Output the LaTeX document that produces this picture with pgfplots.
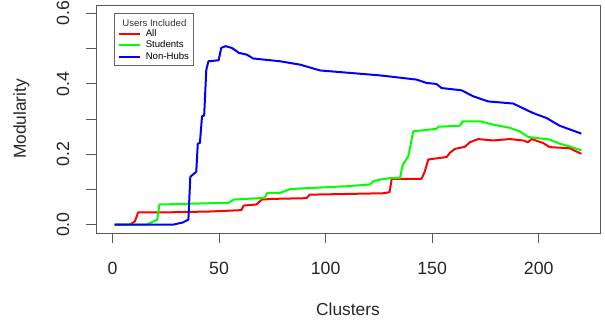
\documentclass[border=0pt]{standalone}
\usepackage{fontspec}
\setmainfont{Liberation Sans}
\usepackage{pgfplots}
\pgfplotsset{compat=1.18}
\definecolor{rred}{RGB}{255,0,0}
\definecolor{rgreen}{RGB}{0,255,0}
\definecolor{rblue}{RGB}{0,0,255}
\begin{document}
\begin{tikzpicture}
\begin{axis}[
  scale only axis,
  width=378pt, height=171pt,
  xmin=-7.76, xmax=228.76,
  ymin=-0.024, ymax=0.624,
  axis line style={black!65, line width=0.6pt},
  every tick/.style={black!65, line width=0.6pt},
  tick align=outside,
  major tick length=7.5pt,
  xtick={0,50,100,150,200},
  xticklabels={0,50,100,150,200},
  ytick={0,0.1,0.2,0.3,0.4,0.5,0.6},
  yticklabels={0.0,,0.2,,0.4,,0.6},
  xtick pos=left, ytick pos=left,
  xticklabel shift=10.5pt,
  yticklabel shift=9pt,
  /pgf/number format/assume math mode=true,
  ticklabel style={font=\fontsize{13.3}{15}\selectfont, text=black!85},
  yticklabel style={rotate=90},
  xlabel={Clusters}, ylabel={Modularity},
  every axis x label/.style={at={(rel axis cs:0.5,0)}, anchor=center, yshift=-57.4pt, font=\fontsize{13}{15}\selectfont, text=black!85},
  every axis y label/.style={at={(rel axis cs:0,0.5)}, anchor=center, rotate=90, yshift=56pt, font=\fontsize{13}{15}\selectfont, text=black!85},
  legend cell align=left,
  legend style={at={(rel axis cs:0.0357,0.965)}, anchor=north west,
    draw=black!60, line width=0.5pt, font=\fontsize{7.2}{8}\selectfont,
    inner xsep=2.4pt, inner ysep=2.7pt, row sep=0.6pt, column sep=3.2pt,
    nodes={inner sep=0.6pt, text height=5.4pt, text depth=1.4pt}},
  legend image code/.code={\path (0pt,0pt) -- (2.5pt,0pt); \draw[#1, line width=1.3pt] (2.5pt,0pt) -- (16pt,0pt);},
  every axis plot/.append style={line width=1.5pt, line join=round},
]
\coordinate (bl) at (rel axis cs:0,0);
\coordinate (tr) at (rel axis cs:1,1);
\addlegendimage{empty legend}
\addlegendentry{\hspace{-17.6pt}\raisebox{-1pt}{\textcolor{black!80}{Users Included}}}
\addplot[rred] coordinates {
(1,0) (8,0) (10.5,0.009) (12,0.035) (28,0.035) (45,0.037) (60.5,0.041) (61.5,0.054) (67.5,0.057) (70,0.071) (75,0.073) (91,0.075) (92.5,0.085) (110,0.087) (127,0.089) (130,0.092) (131,0.13) (145,0.13) (146.5,0.15) (148.2,0.185) (156.8,0.192) (158.3,0.204) (160.7,0.215) (165.3,0.221) (167.7,0.234) (171.6,0.243) (178.6,0.239) (186.4,0.243) (192.7,0.239) (195,0.234) (196.6,0.243) (202,0.232) (205.2,0.22) (214.5,0.217) (220,0.201)
};
\addlegendentry{All}
\addplot[rgreen] coordinates {
(1,0) (16,0) (21,0.014) (22,0.057) (54.5,0.062) (56.8,0.071) (71.5,0.076) (72.5,0.09) (78.7,0.09) (83.4,0.101) (110,0.109) (120.8,0.114) (122.4,0.123) (125.5,0.128) (130.4,0.132) (134.9,0.1325) (136.2,0.17) (138.8,0.194) (141.1,0.265) (152,0.272) (152.8,0.278) (163,0.281) (164.3,0.2935) (172.4,0.2935) (178.6,0.284) (186.4,0.275) (191.1,0.265) (195,0.249) (205.2,0.2415) (209.8,0.23) (214.5,0.222) (220,0.211)
};
\addlegendentry{Students}
\addplot[rblue] coordinates {
(1,0) (28.6,0) (33,0.006) (35.6,0.014) (36.5,0.136) (39.3,0.15) (40,0.23) (41,0.232) (42,0.308) (43,0.31) (44,0.44) (45,0.464) (49.8,0.467) (51,0.502) (53,0.507) (56,0.502) (58.4,0.492) (59.2,0.488) (63,0.483) (66,0.472) (74,0.467) (78.7,0.464) (88,0.4545) (97.4,0.438) (125.5,0.424) (142.7,0.412) (147.4,0.4025) (152,0.3996) (154.4,0.388) (163.8,0.3816) (169.2,0.3646) (176.3,0.350) (188,0.344) (197.3,0.317) (203.6,0.303) (209.8,0.281) (220,0.2585)
};
\addlegendentry{Non-Hubs}
\end{axis}
\pgfresetboundingbox
\path ([xshift=-72pt,yshift=-66pt]bl) rectangle ([xshift=3.75pt,yshift=3.75pt]tr);
\end{tikzpicture}
\end{document}
